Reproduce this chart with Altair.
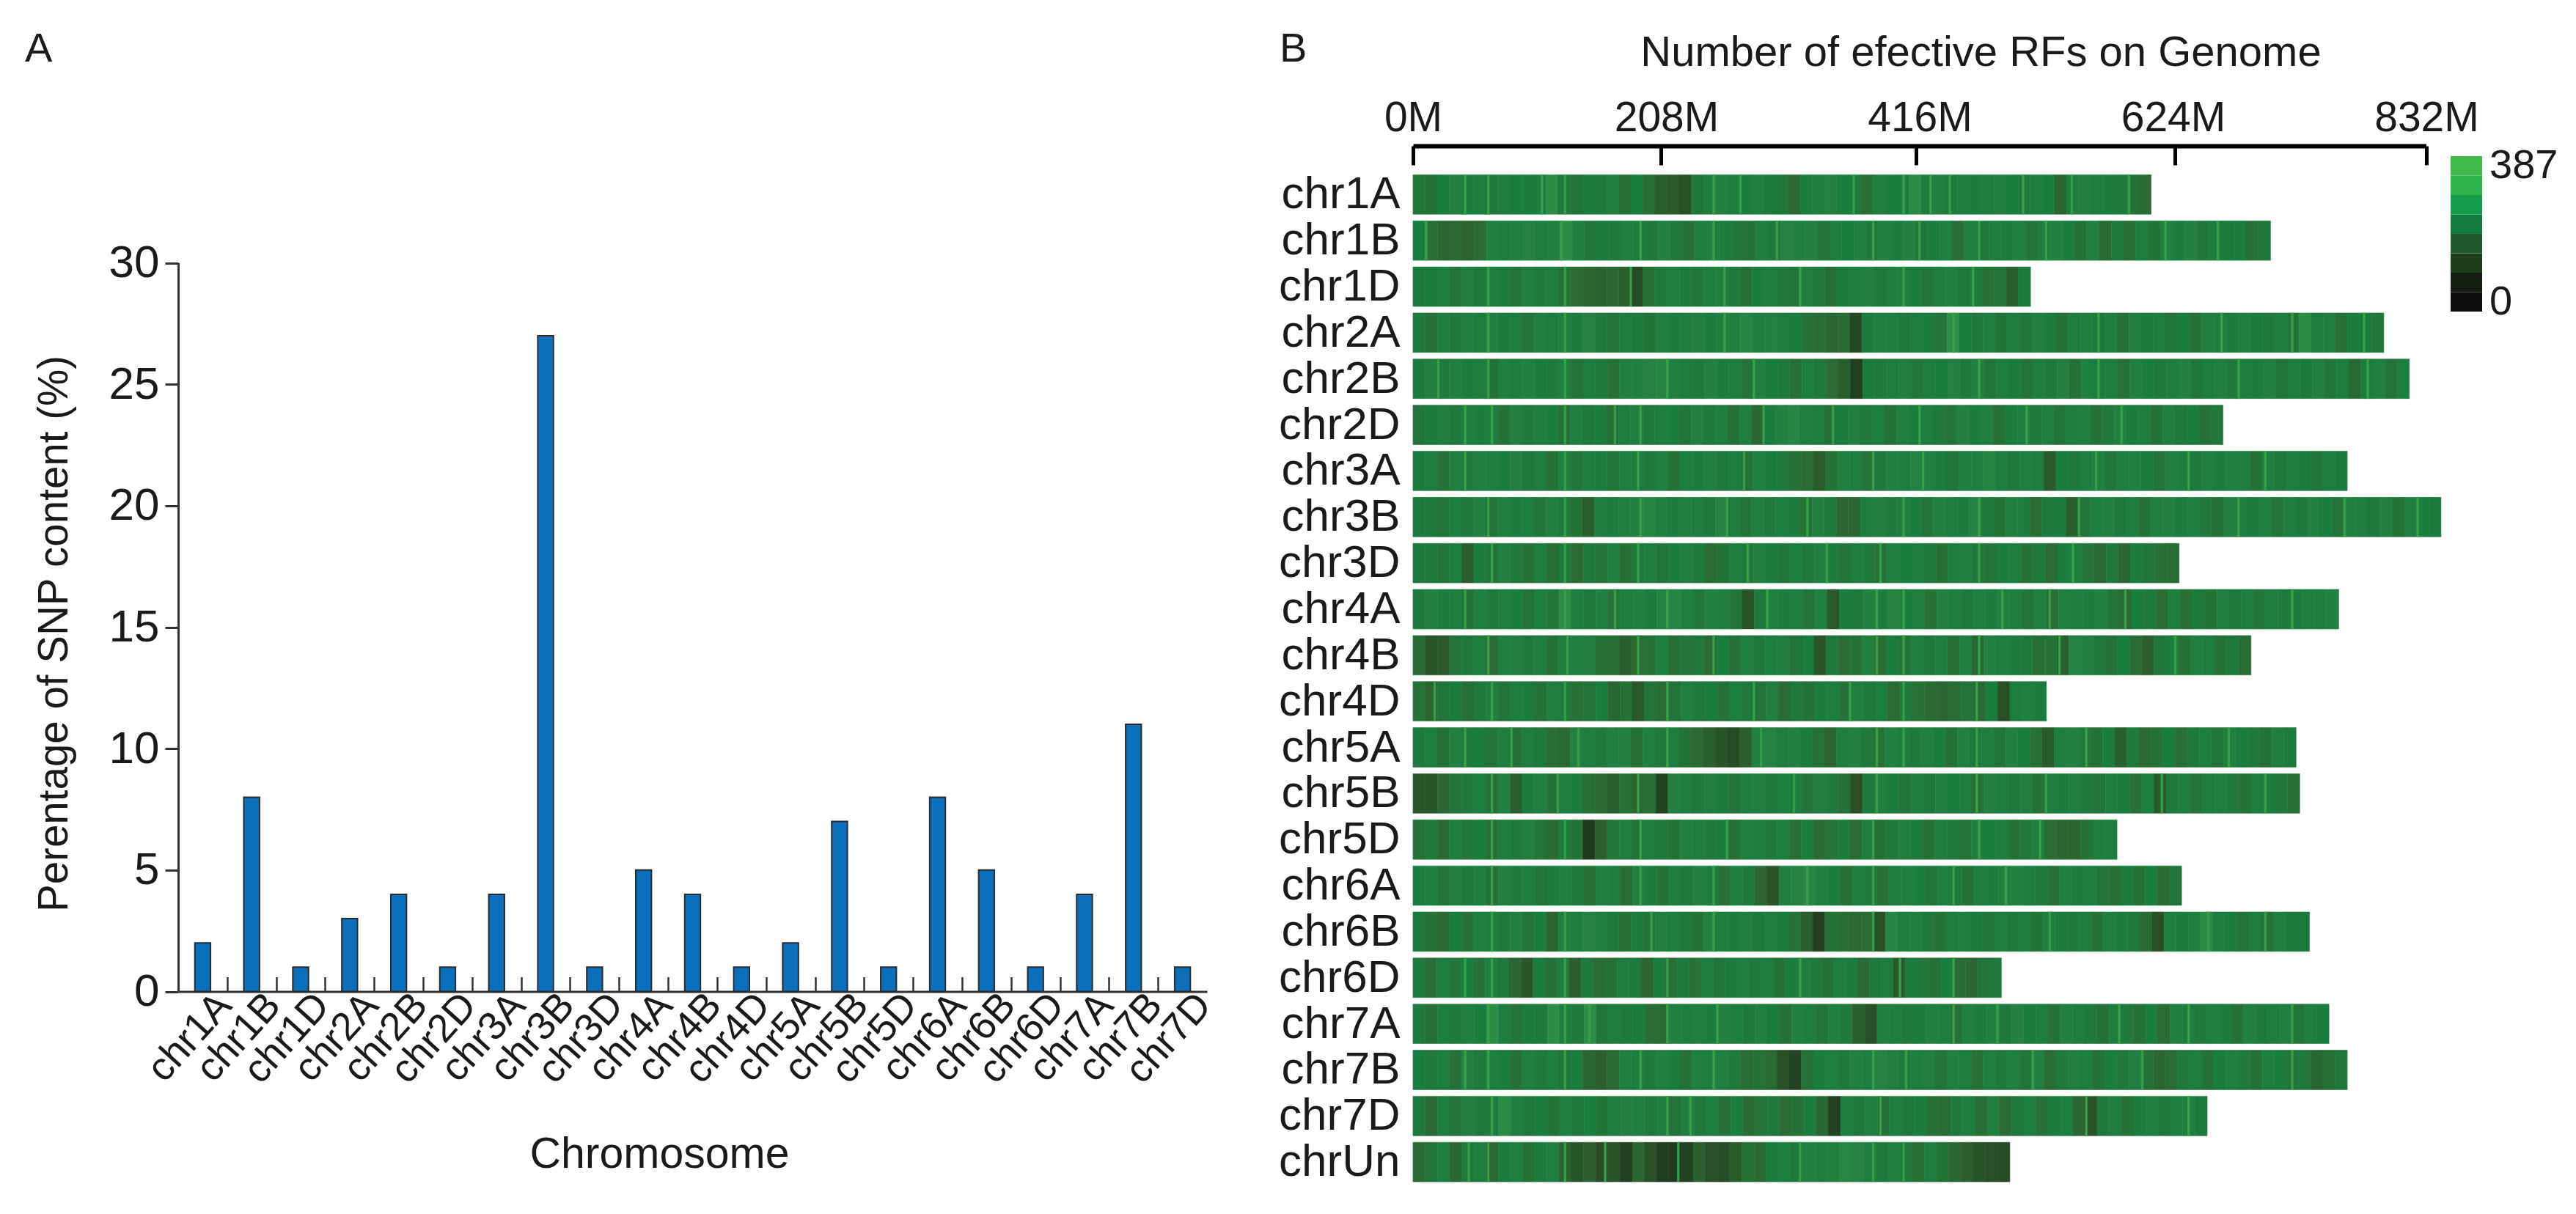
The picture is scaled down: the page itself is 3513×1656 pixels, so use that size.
import altair as alt
import pandas as pd

FONT = "Liberation Sans"

snp_chroms = ["chr1A","chr1B","chr1D","chr2A","chr2B","chr2D","chr3A","chr3B","chr3D","chr4A","chr4B",
              "chr4D","chr5A","chr5B","chr5D","chr6A","chr6B","chr6D","chr7A","chr7B","chr7D"]
snp_pct = [2,8,1,3,4,1,4,27,1,5,4,1,2,7,1,8,5,1,4,11,1]
y_ticks = [0,5,10,15,20,25,30]

rf_chroms = snp_chroms + ["chrUn"]
rf_length = [606,704,507,797,818,665,767,844,629,760,688,520,725,728,578,631,736,483,752,767,652,490]
x_ticks = [0,208,416,624,832]

# density along each chromosome, read by eye, left to right in equal steps
chr1A = [200,190,215,250,215,225,205,230,220,215,225,290,205,195,215,205,240,190,215,180,150,140,120,200,225,250,225,215,240,210,200,170,220,235,250,215,225,185,240,220,215,285,225,240,205,230,215,225,245,220,205,230,215,160,225,250,225,215,205,190,170]
chr1B = [215,180,165,170,160,175,240,225,235,255,225,240,290,230,200,215,205,240,215,200,245,205,190,225,240,215,200,190,230,205,255,240,250,195,225,215,240,205,245,215,250,200,215,235,180,240,205,225,215,240,195,225,250,215,190,235,170,205,180,225,190,235,215,250,200,225,210,215,190,200]
chr1D = [205,215,230,195,240,205,225,215,195,240,205,225,190,175,160,155,165,150,110,190,205,240,215,200,225,245,205,190,215,230,200,195,240,205,185,215,230,245,205,225,240,215,200,225,245,205,220,190,195,150,210]
chr2A = [205,190,230,205,240,225,250,215,225,195,245,225,240,215,255,205,195,225,210,190,240,215,230,250,220,245,240,265,230,250,225,215,190,175,165,170,105,220,245,230,205,225,215,195,300,215,205,235,190,225,200,245,215,190,225,240,205,230,190,245,215,225,200,215,190,245,225,210,240,215,205,230,195,290,225,240,190,220,215,200]
chr2B = [210,250,205,240,215,230,190,235,225,245,215,205,240,195,225,205,190,245,235,255,265,240,225,205,250,215,225,195,240,215,205,190,225,205,175,150,90,215,205,225,240,200,230,215,250,205,240,195,225,210,195,230,205,245,190,235,215,225,190,240,215,205,230,250,200,225,240,205,230,215,240,195,225,210,245,200,225,170,215,240,195,230]
chr2D = [195,215,240,205,230,215,225,190,245,205,230,215,190,235,205,220,185,225,240,205,225,215,195,245,205,225,190,240,165,220,250,265,240,225,190,215,245,205,225,190,240,215,230,205,195,250,220,240,185,215,230,205,240,195,225,235,190,205,245,215,225,190,240,205,220,190,200]
chr3A = [210,225,190,240,205,245,230,215,250,205,225,190,240,200,225,215,195,240,225,205,235,190,225,215,240,205,225,190,235,215,205,185,175,145,190,240,225,195,205,245,230,260,250,215,195,235,240,265,225,205,240,225,140,215,205,225,240,200,230,245,215,195,240,225,205,235,215,245,230,190,240,205,225,215,195,225,210]
chr3B = [210,205,195,230,205,245,195,240,215,225,200,245,205,190,150,230,215,240,250,265,245,215,240,225,205,255,225,195,240,205,230,215,190,240,205,165,165,225,240,205,230,215,195,245,225,215,255,205,190,240,225,175,205,215,150,195,230,245,205,225,190,240,250,215,235,205,190,245,225,210,240,195,225,205,250,215,195,240,225,205,245,190,235,215,210]
chr3D = [205,210,195,225,150,215,195,240,205,190,225,185,210,175,205,195,240,180,205,225,195,215,240,205,175,190,225,205,240,215,195,225,205,240,215,195,225,205,190,240,215,225,205,185,225,240,205,195,215,225,190,205,175,215,225,195,170,205,165,215,195,185,175]
chr4A = [205,245,215,225,190,235,205,240,215,195,225,200,290,225,205,235,190,225,245,215,255,265,235,200,245,225,195,125,205,240,215,225,195,240,135,220,205,245,225,260,215,240,190,250,225,205,240,215,245,225,195,235,180,240,225,215,245,195,170,215,205,175,230,180,210,190,235,205,225,195,230,205,215,240,225,250]
chr4B = [170,130,135,195,205,225,175,235,245,205,230,190,225,245,240,185,180,150,170,190,230,185,195,205,170,215,190,235,205,225,240,195,215,130,205,175,190,240,175,215,195,240,205,225,190,240,165,250,225,215,205,180,190,150,255,245,205,190,220,175,150,200,215,190,240,225,190,205,180]
chr4D = [190,160,195,215,185,205,240,195,225,210,190,240,205,190,195,220,165,190,135,195,175,195,240,205,215,190,225,205,195,240,175,205,190,215,225,190,240,205,225,175,205,190,170,165,175,195,170,215,120,225,235,210]
chr5A = [205,225,190,240,205,215,195,230,190,225,205,180,170,250,230,205,240,250,190,235,205,225,190,170,150,125,110,145,235,260,225,245,215,190,160,225,240,205,190,240,225,205,235,215,190,245,205,225,195,240,215,190,140,225,240,205,190,220,150,205,170,190,215,180,205,225,195,240,215,205,190,230,210]
chr5B = [130,130,165,195,205,225,190,245,150,215,235,190,240,215,180,170,150,190,160,185,100,250,225,205,240,215,195,230,240,205,225,215,195,240,205,180,120,205,240,215,195,225,205,245,215,230,190,250,225,205,240,190,225,215,240,205,195,230,215,190,225,140,205,230,195,225,240,205,190,225,215,200,190]
chr5D = [190,205,170,225,195,215,180,225,205,240,195,170,215,190,80,150,200,235,190,225,205,190,240,225,205,215,190,240,230,205,225,190,215,170,195,215,175,225,190,205,240,215,185,225,205,195,240,215,225,190,205,230,175,165,160,190,225,230]
chr6A = [215,235,195,240,205,225,190,240,205,225,195,215,240,205,190,235,225,175,245,215,190,230,205,250,215,190,235,205,165,130,240,255,265,240,215,180,230,205,190,225,240,215,195,235,205,190,225,215,240,245,225,205,190,235,215,225,195,180,210,190,215,170,195]
chr6B = [205,190,170,215,190,235,225,205,245,195,215,160,240,225,255,235,205,190,215,195,240,225,205,190,245,225,215,240,205,235,215,190,150,90,190,180,170,175,120,265,225,240,205,190,225,240,215,195,235,205,225,190,240,215,205,225,190,240,215,205,170,120,235,220,240,285,230,215,195,225,190,240,210,205]
chr6D = [205,180,225,195,215,190,235,205,165,130,215,190,225,150,205,175,190,225,205,160,215,180,205,190,225,195,215,235,205,225,190,215,240,205,190,225,215,170,205,225,140,215,200,190,215,175,165,195,205]
chr7A = [205,190,225,205,240,215,290,225,195,215,205,290,225,205,290,195,225,205,215,175,170,245,225,240,215,250,225,205,245,215,190,235,225,195,240,205,150,120,240,225,205,215,245,225,190,235,215,240,205,250,215,225,190,245,225,205,190,225,205,190,215,175,240,225,205,235,215,190,245,205,225,240,195,230,215]
chr7B = [215,205,225,190,240,205,225,215,190,235,205,225,195,215,165,150,170,240,225,205,245,215,190,235,225,240,205,180,190,170,120,100,190,215,235,205,245,225,255,240,205,225,240,195,245,225,190,240,205,235,195,245,175,205,240,225,190,215,205,240,190,165,175,205,225,190,215,235,205,190,225,215,195,205,165,190,200]
chr7D = [205,170,225,195,240,205,225,285,230,205,215,190,235,205,215,190,225,250,240,205,225,195,240,205,225,190,215,170,195,205,175,190,215,165,95,225,205,240,190,225,205,215,190,175,205,225,185,240,175,205,225,190,215,230,165,130,205,225,190,215,235,205,225,240,210]
chrUn = [170,195,230,165,205,225,170,210,235,190,215,240,155,130,150,115,125,90,160,120,85,80,95,150,115,110,140,190,170,215,230,205,245,225,240,270,255,225,205,240,205,185,225,190,165,150,125,115,110]
rf_rows = [chr1A,chr1B,chr1D,chr2A,chr2B,chr2D,chr3A,chr3B,chr3D,chr4A,chr4B,chr4D,chr5A,chr5B,chr5D,chr6A,chr6B,chr6D,chr7A,chr7B,chr7D,chrUn]

# thin bright lines seen in each chromosome (Mb)
lines_1A = [42,61,105,124,246,268,361,402,424,440,500,540,587]
lines_1B = [10,121,186,246,298,377,415,464,519,617,660]
lines_1D = [61,124,178,255,317,402,459]
lines_2A = [61,124,255,443,562,663,721,780]
lines_2B = [20,61,124,208,279,464,562,677,783]
lines_2D = [42,64,124,165,186,287,344,415,503,581]
lines_3A = [42,124,184,271,377,418,560,636,699]
lines_3B = [61,124,186,257,323,402,464,546,677,764,824]
lines_3D = [64,124,184,274,339,383,464,541]
lines_4A = [42,124,165,208,290,380,402,483,522,584,721]
lines_4B = [61,126,184,246,380,402,464,530,625]
lines_4D = [17,64,124,208,279,358,402,462]
lines_5A = [42,80,135,208,285,380,402,462,552,669]
lines_5B = [64,118,184,312,380,462,519,614,699]
lines_5D = [64,124,186,257,377,464,514]
lines_6A = [64,186,246,323,377,443,486]
lines_6B = [64,124,195,246,377,522,652,699]
lines_6D = [42,64,124,208,317,399,443]
lines_7A = [61,124,144,208,249,443,479,579,636,721]
lines_7B = [42,61,124,186,246,377,404,508,598,721]
lines_7D = [64,208,227,383,552,636]
lines_Un = [45,61,124,157,217,317,377,402]
rf_lines = [lines_1A,lines_1B,lines_1D,lines_2A,lines_2B,lines_2D,lines_3A,lines_3B,lines_3D,lines_4A,lines_4B,lines_4D,
            lines_5A,lines_5B,lines_5D,lines_6A,lines_6B,lines_6D,lines_7A,lines_7B,lines_7D,lines_Un]
line_value = 330
line_span = 1.6

legend_values = [24.2,72.6,121,169.3,217.7,266,314.4,362.8]
legend_colors = ["#0a0c0d","#121c10","#1e3d1c","#1f5a2c","#117b42","#149c4c","#2fb44c","#40b94a"]
legend_labels = [("387",362.8),("0",24.2)]
stripe_values = [80,120,170,215,250,300,340]
stripe_colors = ["#1f3a20","#2a5029","#2a6a35","#1a7c3f","#237f42","#2e9048","#3aa64a"]

A_W = 1403
B_W, B_H = 1382, 1382.5
A_PLOT = 1118.5      # panel A's frame, from the top of panel B's frame to y = 0
A_TOP = 124.5        # where y = 30 sits in that frame
ink = "#1a1a1a"

# ---------- panel A
df_a = pd.DataFrame({"chrom": snp_chroms, "pct": snp_pct})
band = alt.Scale(paddingInner=0.68, paddingOuter=0.34)
bars = alt.Chart(df_a).mark_bar(color="#0c6fbb", stroke="#2b2b2b", strokeWidth=2).encode(
    x=alt.X("chrom:N", sort=snp_chroms, scale=band, axis=alt.Axis(
        title="Chromosome", titleFontSize=59, titleFont=FONT, titleFontWeight="normal", titleColor=ink,
        titleX=656, titleY=222, titleBaseline="middle", titleAlign="center",
        labelFontSize=54, labelFont=FONT, labelColor=ink, labelAngle=312, labelAlign="right",
        labelBaseline="middle", labelPadding=10, labelOffset=30, ticks=False, domain=True,
        domainColor="#333333", domainWidth=3, grid=False)),
    y=alt.Y("pct:Q", scale=alt.Scale(domain=[0,30], range=[A_PLOT, A_TOP], nice=False), axis=alt.Axis(
        values=y_ticks, title="Perentage of SNP content (%)", titleFontSize=56.5, titleFont=FONT,
        titleFontWeight="normal", titleColor=ink, titleX=-169, titleY=630, titleBaseline="middle",
        titleAlign="center", labelFontSize=62, labelFont=FONT, labelColor=ink, labelPadding=8,
        tickSize=18, tickWidth=3, tickColor="#333333", domainColor="#333333", domainWidth=3, grid=False)),
)
inner_ticks = alt.Chart(df_a).mark_bar(opacity=0).encode(
    x=alt.X("chrom:N", sort=snp_chroms, scale=band, axis=alt.Axis(
        orient="top", offset=-A_PLOT, title=None, labels=False, domain=False, values=snp_chroms[:-1],
        tickOffset=33.4, tickSize=20, tickWidth=2.5, tickColor="#333333", grid=False)),
)
letter_a = alt.Chart(pd.DataFrame({"t":["A"]})).mark_text(
    fontSize=56, font=FONT, color=ink, align="left", baseline="alphabetic", dx=-209, dy=-150
).encode(text="t:N", x=alt.value(0), y=alt.value(0))
panel_a = (alt.layer(bars, inner_ticks, letter_a)
           .resolve_scale(x="independent", y="independent")
           .resolve_axis(x="independent", y="independent")
           .properties(width=A_W, height=A_PLOT))

# ---------- panel B
recs = []
for chrom, length, row, lines in zip(rf_chroms, rf_length, rf_rows, rf_lines):
    step = length / len(row)
    for i, v in enumerate(row):
        recs.append({"chrom": chrom, "start": i*step, "end": (i+1)*step, "v": v})
    for p in lines:
        recs.append({"chrom": chrom, "start": p, "end": p+line_span, "v": line_value})
df_b = pd.DataFrame(recs)
legend_scale = alt.Scale(domain=legend_values, range=legend_colors)
stripe_scale = alt.Scale(domain=stripe_values, range=stripe_colors)
x_scale = alt.Scale(domain=[0,832], nice=False)

stripes = alt.Chart(df_b).mark_rect(strokeWidth=0.6).encode(
    x=alt.X("start:Q", scale=x_scale, axis=alt.Axis(
        orient="top", offset=35, values=x_ticks, labelExpr="datum.value + 'M'", ticks=False, domain=False,
        labelFontSize=57, labelFont=FONT, labelColor=ink, labelPadding=9, labelFlush=False,
        title="Number of efective RFs on Genome", titleFontSize=58, titleFont=FONT, titleFontWeight="normal",
        titleColor=ink, titlePadding=31, titleX=774, titleAlign="center", grid=False)),
    x2="end:Q",
    y=alt.Y("chrom:N", sort=rf_chroms, scale=alt.Scale(paddingInner=0.143, paddingOuter=0.07), axis=alt.Axis(
        title=None, ticks=False, domain=False, labelFontSize=62, labelFont=FONT, labelColor=ink,
        labelPadding=18, grid=False)),
    color=alt.Color("v:Q", scale=stripe_scale, legend=None),
    stroke=alt.Stroke("v:Q", scale=stripe_scale, legend=None),
)
df_ticks = pd.DataFrame({"v": x_ticks})
# the printed ruler is slightly uneven: its ticks follow their own spacing
axis_line = alt.Chart(df_ticks).mark_tick(opacity=0).encode(
    x=alt.X("v:Q", scale=alt.Scale(domain=x_ticks, range=[0,337.5,685.5,1038.5,1381.5]), axis=alt.Axis(
        orient="bottom", offset=-(B_H+35), values=x_ticks, labels=False, title=None,
        domainColor="#000000", domainWidth=6, tickColor="#000000", tickWidth=5, tickSize=26, grid=False)),
)
leg_scale = alt.Scale(domain=[0,387], range=[191,-21], nice=False)
df_leg = pd.DataFrame({"v": legend_values})
df_leg["a"] = [v-24.2 for v in legend_values]
df_leg["b"] = [v+24.2 for v in legend_values]
legend_rect = alt.Chart(df_leg).mark_rect().encode(
    x=alt.value(1415), x2=alt.value(1458),
    y=alt.Y("a:Q", scale=leg_scale, axis=None), y2="b:Q",
    color=alt.Color("v:Q", scale=legend_scale, legend=None),
)
df_lab = pd.DataFrame(legend_labels, columns=["t","v"])
legend_text = alt.Chart(df_lab).mark_text(fontSize=56, font=FONT, color=ink, align="left", baseline="middle").encode(
    x=alt.value(1468), y=alt.Y("v:Q", scale=leg_scale, axis=None), text="t:N")
letter_b = alt.Chart(pd.DataFrame({"t":["B"]})).mark_text(
    fontSize=56, font=FONT, color=ink, align="left", baseline="alphabetic", dx=-182, dy=-150
).encode(text="t:N", x=alt.value(0), y=alt.value(0))

panel_b = (alt.layer(stripes, axis_line, legend_rect, legend_text, letter_b)
           .resolve_scale(y="independent", x="independent", color="independent")
           .resolve_axis(x="independent", y="independent")
           .properties(width=B_W, height=B_H))

chart = (alt.hconcat(panel_a, panel_b, spacing=80)
         .properties(padding={"left": 26, "top": 31, "right": 0, "bottom": 0}, background="#ffffff")
         .configure_view(strokeWidth=0, stroke="transparent"))
chart.save("out.html", embed_options={"renderer": "svg", "actions": False})
